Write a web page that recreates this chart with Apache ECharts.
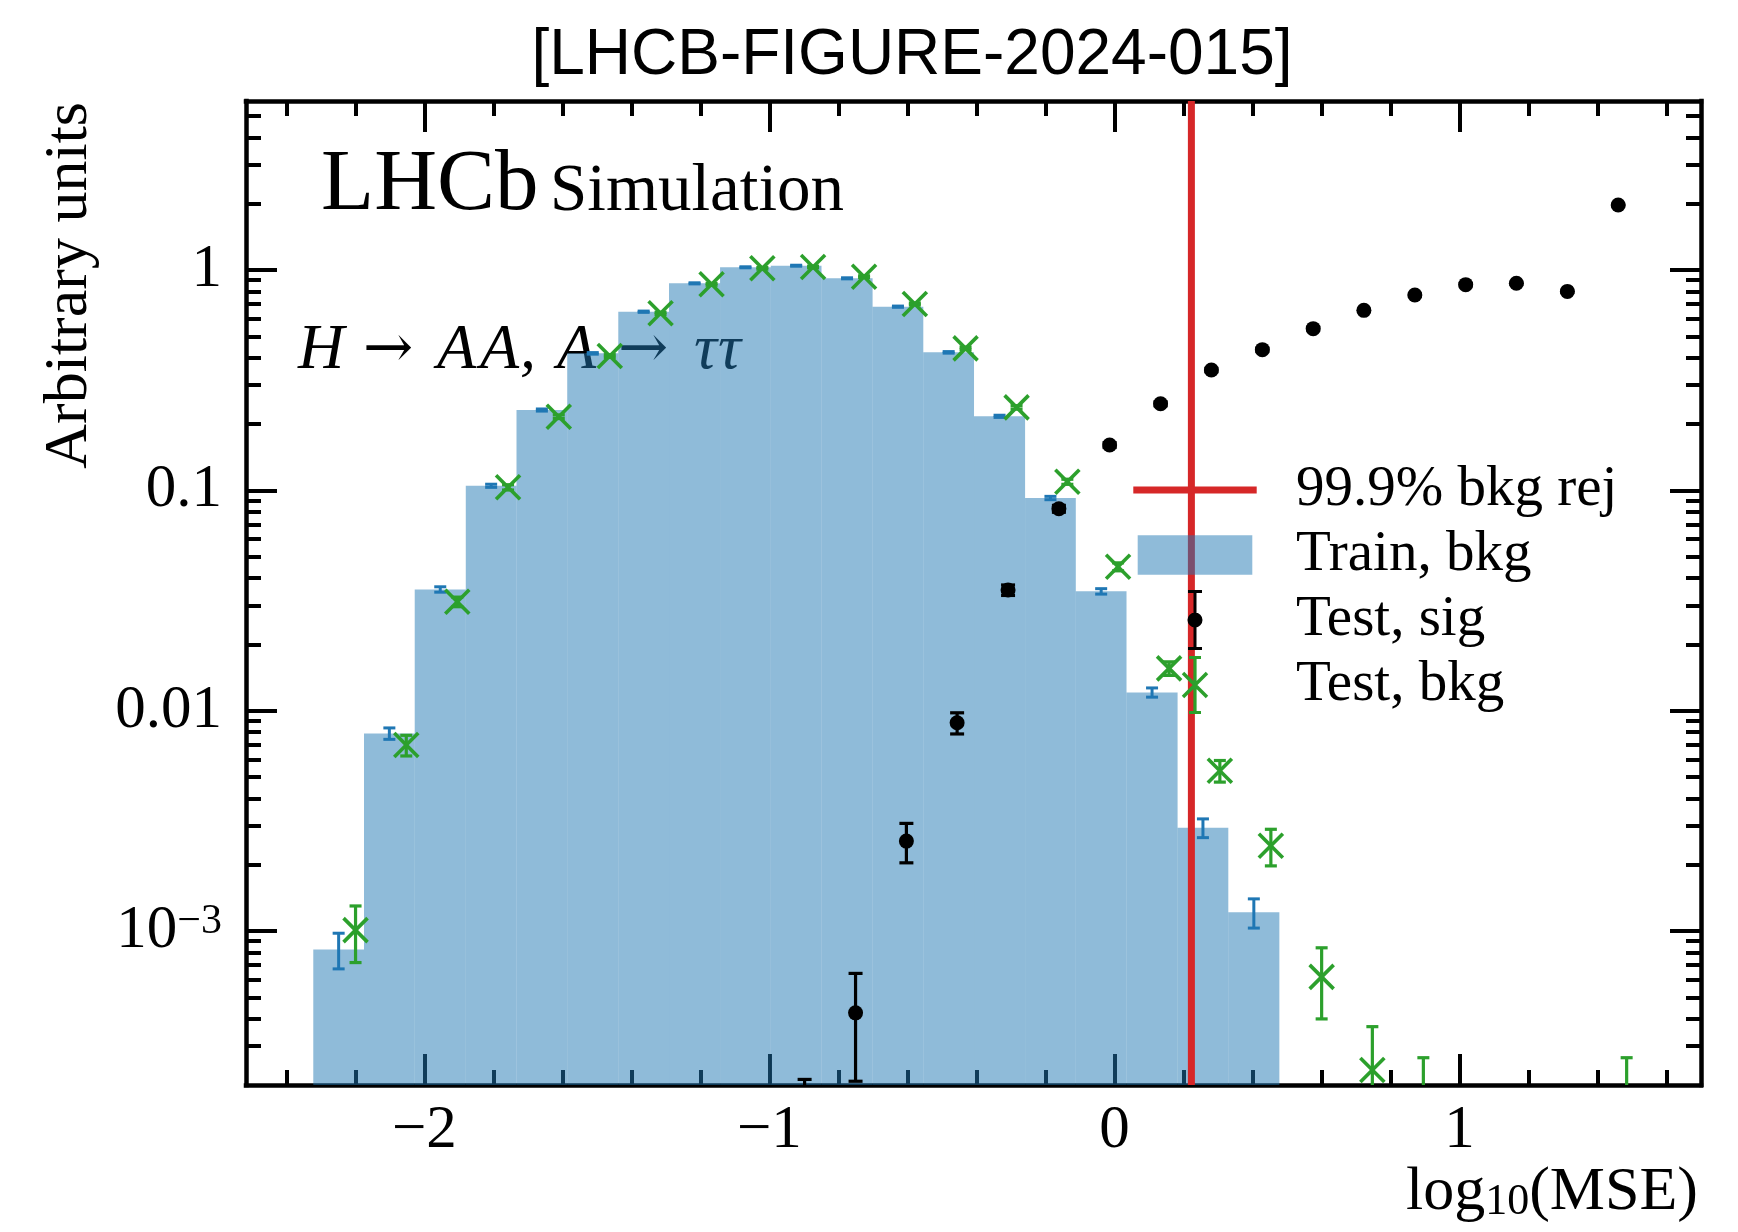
<!DOCTYPE html>
<html>
<head>
<meta charset="utf-8">
<script src="https://cdn.jsdelivr.net/npm/echarts@6/dist/echarts.min.js"></script>
<style>
  html, body { margin: 0; padding: 0; background: #ffffff; }
  #chart { width: 1738px; height: 1232px; }
</style>
</head>
<body>
<div id="chart"></div>
<script>
// ---- Data: normalised log10(MSE) distributions (26 common bins) ----
const binEdges = [-2.322, -2.175, -2.028, -1.880, -1.733, -1.586, -1.438, -1.291, -1.143,
  -0.996, -0.849, -0.701, -0.554, -0.407, -0.259, -0.112, 0.035, 0.183, 0.330,
  0.478, 0.625, 0.772, 0.920, 1.067, 1.214, 1.362, 1.509];

// Training background (filled histogram) and its statistical uncertainty
const trainBkg = [8.25e-4, 7.88e-3, 0.0355, 0.1049, 0.2315, 0.4185, 0.6468, 0.870, 1.029,
  1.046, 0.917, 0.6817, 0.4229, 0.2168, 0.0923, 0.0348, 0.0121, 2.94e-3, 1.215e-3,
  null, null, null, null, null, null, null];
const trainBkgErr = [1.52e-4, 4.7e-4, 9.97e-4, 1.71e-3, 2.55e-3, 3.42e-3, 4.26e-3, 4.94e-3, 5.37e-3,
  5.41e-3, 5.07e-3, 4.37e-3, 3.44e-3, 2.46e-3, 1.61e-3, 9.87e-4, 5.82e-4, 2.87e-4, 1.84e-4,
  null, null, null, null, null, null, null];

// Test signal, H -> AA, A -> tautau
const testSig = [null, null, null, null, null, null, null, null, null,
  1.06e-4, 4.25e-4, 2.559e-3, 8.81e-3, 0.03527, 0.0825, 0.1606, 0.2472, 0.3516, 0.435,
  0.542, 0.656, 0.770, 0.858, 0.871, 0.800, 1.972];
const testSigErr = [null, null, null, null, null, null, null, null, null,
  1.06e-4, 2.17e-4, 5.2e-4, 9.7e-4, 1.93e-3, 2.96e-3, 4.13e-3, 5.12e-3, 6.1e-3, 6.79e-3,
  7.58e-3, 8.34e-3, 9.03e-3, 9.54e-3, 9.61e-3, 9.2e-3, 1.45e-2];

// Test background
const testBkg = [1.009e-3, 6.98e-3, 0.0312, 0.1032, 0.2158, 0.4071, 0.6359, 0.8612, 1.018,
  1.032, 0.9324, 0.701, 0.441, 0.238, 0.1094, 0.045, 0.01556, 5.34e-3, 2.435e-3,
  6.19e-4, 2.34e-4, 1.56e-4, null, null, null, 1.56e-4];
const testBkgErr = [2.9e-4, 7.5e-4, 1.56e-3, 2.84e-3, 4.10e-3, 5.64e-3, 7.04e-3, 8.20e-3, 8.91e-3,
  8.98e-3, 8.53e-3, 7.39e-3, 5.87e-3, 4.31e-3, 2.92e-3, 1.87e-3, 1.10e-3, 6.0e-4, 4.6e-4,
  2.2e-4, 1.34e-4, 1.1e-4, null, null, null, 1.1e-4];

// 99.9% background-rejection threshold on log10(MSE)
const cutValue = 0.223;

// Axis ticks and labels
const xMajorTicks = [-2, -1, 0, 1];
const xMinorTicks = [-2.4, -2.2, -1.8, -1.6, -1.4, -1.2, -0.8, -0.6, -0.4, -0.2,
  0.2, 0.4, 0.6, 0.8, 1.2, 1.4, 1.6];
const yMajorTicks = [0.001, 0.01, 0.1, 1];
const yMinorTicks = [3e-4, 4e-4, 5e-4, 6e-4, 7e-4, 8e-4, 9e-4,
  2e-3, 3e-3, 4e-3, 5e-3, 6e-3, 7e-3, 8e-3, 9e-3,
  0.02, 0.03, 0.04, 0.05, 0.06, 0.07, 0.08, 0.09,
  0.2, 0.3, 0.4, 0.5, 0.6, 0.7, 0.8, 0.9,
  2, 3, 4, 5];

// ---- Styling ----
const X_MIN = -2.517, X_MAX = 1.700;
const Y_MIN = 2e-4, Y_MAX = 5.85;
const INK = '#000000';
const BLUE = '#1f77b4';
const BLUE_FILL = 'rgba(31,119,180,0.5)';
const GREEN = '#2ca02c';
const RED = '#d62728';
const SERIF = '"Liberation Serif", "Times New Roman", "DejaVu Serif", serif';
const ARROW_FONT = '"DejaVu Serif", "Liberation Serif", serif';
const SANS = '"Liberation Sans", Arial, Helvetica, sans-serif';
const FRAME_W = 4.5, TICK_W = 4, MAJOR_LEN = 31, MINOR_LEN = 15;
const TICK_FONT = 61;

function xAxisDef(pos, ticks, len, withLine, withLabels) {
  return {
    type: 'value', gridIndex: 0, position: pos, offset: 0,
    min: X_MIN, max: X_MAX,
    axisLine: { show: withLine, onZero: false, lineStyle: { color: INK, width: FRAME_W, cap: 'square' } },
    axisTick: { show: true, inside: true, length: len, customValues: ticks,
      lineStyle: { color: INK, width: TICK_W } },
    axisLabel: withLabels ? {
      show: true, customValues: ticks, margin: 15,
      fontFamily: SERIF, fontSize: TICK_FONT, color: INK,
      formatter: v => (v < 0 ? '\u2212' + Math.abs(Math.round(v)) : String(Math.round(v)))
    } : { show: false },
    splitLine: { show: false }
  };
}

function yAxisDef(pos, ticks, len, withLine, withLabels) {
  return {
    type: 'log', logBase: 10, gridIndex: 0, position: pos, offset: 0,
    min: Y_MIN, max: Y_MAX,
    axisLine: { show: withLine, onZero: false, lineStyle: { color: INK, width: FRAME_W, cap: 'square' } },
    axisTick: { show: true, inside: true, length: len, customValues: ticks,
      lineStyle: { color: INK, width: TICK_W } },
    axisLabel: withLabels ? {
      show: true, customValues: ticks, margin: 24,
      fontFamily: SERIF, fontSize: TICK_FONT, color: INK,
      formatter: v => {
        const e = Math.round(Math.log10(v));
        if (e >= -2) return Math.pow(10, e).toFixed(Math.max(0, -e));
        return '10{sup|\u2212' + (-e) + '}';
      },
      rich: {
        sup: { fontFamily: SERIF, fontSize: 42, lineHeight: 32, verticalAlign: 'top', color: INK }
      }
    } : { show: false },
    splitLine: { show: false }
  };
}

// rows of [binLow, binHigh, value, error]
function binRows(values, errors) {
  const rows = [];
  values.forEach((v, k) => {
    if (v == null) return;
    rows.push([binEdges[k], binEdges[k + 1], v, errors ? errors[k] : 0]);
  });
  return rows;
}

function renderBar(params, api) {
  const top = api.coord([api.value(0), api.value(2)]);
  const base = api.coord([api.value(1), Y_MIN]);
  return {
    type: 'rect',
    shape: { x: top[0], y: top[1], width: base[0] - top[0], height: base[1] - top[1] },
    style: { fill: BLUE_FILL }
  };
}

// error bar (+ optional marker); shift is a fraction of the bin width
function makeErrRender(color, shift, marker, capHalf, lw) {
  return function (params, api) {
    const lo = api.value(0), hi = api.value(1), v = api.value(2), e = api.value(3);
    const xc = (lo + hi) / 2 + shift * (hi - lo);
    const pc = api.coord([xc, v]);
    const up = api.coord([xc, v + e]);
    const dn = api.coord([xc, v - e > 0 ? v - e : Y_MIN / 100]);
    const st = { stroke: color, lineWidth: lw, fill: null };
    const kids = [
      { type: 'line', shape: { x1: pc[0], y1: up[1], x2: pc[0], y2: dn[1] }, style: st },
      { type: 'line', shape: { x1: pc[0] - capHalf, y1: up[1], x2: pc[0] + capHalf, y2: up[1] }, style: st },
      { type: 'line', shape: { x1: pc[0] - capHalf, y1: dn[1], x2: pc[0] + capHalf, y2: dn[1] }, style: st }
    ];
    if (marker === 'dot') {
      kids.push({ type: 'circle', shape: { cx: pc[0], cy: pc[1], r: 7.5 }, style: { fill: color } });
    } else if (marker === 'x') {
      const h = 12;
      const xs = { stroke: color, lineWidth: 3.6, fill: null };
      kids.push({ type: 'line', shape: { x1: pc[0] - h, y1: pc[1] - h, x2: pc[0] + h, y2: pc[1] + h }, style: xs });
      kids.push({ type: 'line', shape: { x1: pc[0] - h, y1: pc[1] + h, x2: pc[0] + h, y2: pc[1] - h }, style: xs });
    }
    return { type: 'group', children: kids };
  };
}

function renderCut(params, api) {
  const a = api.coord([api.value(0), Y_MAX]);
  const b = api.coord([api.value(0), Y_MIN]);
  return { type: 'line', shape: { x1: a[0], y1: a[1], x2: b[0], y2: b[1] },
    style: { stroke: RED, lineWidth: 7 } };
}

// legend handles, each in a 158 x 60 box (corner anchors fix the box)
const BOX = 'M0,0L0.01,0M158,60L157.99,60';
const ICON_CUT = 'path://' + BOX + 'M0.3,26.5H123.7V33.5H0.3Z';
const ICON_PATCH = 'path://' + BOX + 'M4.7,10.2H119.3V49.8H4.7Z';
const ICON_SIG = 'path://' + BOX +
  'M60.5,1.5H63.5V58.5H60.5Z' +
  'M55,0H69V3H55Z' + 'M55,57H69V60H55Z' +
  'M54.5,30A7.5,7.5 0 1,1 69.5,30A7.5,7.5 0 1,1 54.5,30Z';
const ICON_BKG = 'path://' + BOX +
  'M60.4,2.5H63.6V57.5H60.4Z' +
  'M56,1H68V4H56Z' + 'M56,56H68V59H56Z' +
  'M51.24,16.76L75.24,40.76L72.76,43.24L48.76,19.24Z' +
  'M72.76,16.76L75.24,19.24L51.24,43.24L48.76,40.76Z';

// pieces of the decay label: [text, x, italic]
function decayPiece(text, x, italic) {
  return { type: 'text', x: x, y: 351,
    style: { text: text, fontFamily: italic ? SERIF : ARROW_FONT, fontStyle: italic ? 'italic' : 'normal',
      fontSize: italic ? 64 : 60, fill: INK,
      align: 'left', verticalAlign: 'middle', textAlign: 'left', textVerticalAlign: 'middle' } };
}

const chart = echarts.init(document.getElementById('chart'), null, { renderer: 'canvas' });

chart.setOption({
  backgroundColor: '#ffffff',
  animation: false,
  grid: { left: 246, right: 37, top: 101, bottom: 147, containLabel: false },
  xAxis: [
    xAxisDef('bottom', xMajorTicks, MAJOR_LEN, true, true),
    xAxisDef('bottom', xMinorTicks, MINOR_LEN, false, false),
    xAxisDef('top', xMajorTicks, MAJOR_LEN, true, false),
    xAxisDef('top', xMinorTicks, MINOR_LEN, false, false)
  ],
  yAxis: [
    yAxisDef('left', yMajorTicks, MAJOR_LEN, true, true),
    yAxisDef('left', yMinorTicks, MINOR_LEN, false, false),
    yAxisDef('right', yMajorTicks, MAJOR_LEN, true, false),
    yAxisDef('right', yMinorTicks, MINOR_LEN, false, false)
  ],
  legend: {
    orient: 'vertical', left: 1133, top: 460, padding: 0,
    itemWidth: 158, itemHeight: 60, itemGap: 5, align: 'left',
    selectedMode: false,
    itemStyle: { borderWidth: 0 },
    textStyle: { fontFamily: SERIF, fontSize: 57, color: INK },
    data: [
      { name: '99.9% bkg rej', icon: ICON_CUT },
      { name: 'Train, bkg', icon: ICON_PATCH },
      { name: 'Test, sig', icon: ICON_SIG },
      { name: 'Test, bkg', icon: ICON_BKG }
    ]
  },
  series: [
    {
      name: 'Train, bkg', type: 'custom', xAxisIndex: 0, yAxisIndex: 0, z: 1, clip: true,
      itemStyle: { color: BLUE_FILL },
      encode: { x: [0, 1], y: 2 },
      data: binRows(trainBkg, trainBkgErr),
      renderItem: renderBar
    },
    {
      name: 'train-stat', type: 'custom', xAxisIndex: 0, yAxisIndex: 0, z: 2, clip: true,
      itemStyle: { color: BLUE },
      encode: { x: [0, 1], y: 2 },
      data: binRows(trainBkg, trainBkgErr),
      renderItem: makeErrRender(BLUE, 0, null, 6, 3)
    },
    {
      name: '99.9% bkg rej', type: 'custom', xAxisIndex: 0, yAxisIndex: 0, z: 3,
      itemStyle: { color: RED },
      encode: { x: 0 },
      data: [[cutValue]],
      renderItem: renderCut
    },
    {
      name: 'Test, sig', type: 'custom', xAxisIndex: 0, yAxisIndex: 0, z: 4, clip: true,
      itemStyle: { color: INK },
      encode: { x: [0, 1], y: 2 },
      data: binRows(testSig, testSigErr),
      renderItem: makeErrRender(INK, 1 / 6, 'dot', 7, 3.2)
    },
    {
      name: 'Test, bkg', type: 'custom', xAxisIndex: 0, yAxisIndex: 0, z: 5, clip: true,
      itemStyle: { color: GREEN },
      encode: { x: [0, 1], y: 2 },
      data: binRows(testBkg, testBkgErr),
      renderItem: makeErrRender(GREEN, 1 / 3, 'x', 6, 3.2)
    }
  ],
  graphic: [
    { type: 'text', x: 912, y: 56, silent: true,
      style: { text: '[LHCB-FIGURE-2024-015]', fontFamily: SANS, fontSize: 64, fill: INK,
        align: 'center', verticalAlign: 'middle', textAlign: 'center', textVerticalAlign: 'middle' } },
    { type: 'text', x: 321, y: 186, silent: true,
      style: { text: 'LHCb', fontFamily: SERIF, fontSize: 87, fill: INK,
        align: 'left', verticalAlign: 'middle', textAlign: 'left', textVerticalAlign: 'middle' } },
    { type: 'text', x: 550, y: 192, silent: true,
      style: { text: 'Simulation', fontFamily: SERIF, fontSize: 67, fill: INK,
        align: 'left', verticalAlign: 'middle', textAlign: 'left', textVerticalAlign: 'middle' } },
    { type: 'group', silent: true, children: [
      decayPiece('H', 298, true),
      decayPiece('\u2192', 363, false),
      decayPiece('A', 437, true),
      decayPiece('A', 480, true),
      decayPiece(',', 520, true),
      decayPiece('A', 557, true),
      decayPiece('\u2192', 618, false),
      decayPiece('\u03c4', 694, true),
      decayPiece('\u03c4', 718, true)
    ] },
    { type: 'text', x: 70, y: 102, rotation: Math.PI / 2, silent: true,
      style: { text: 'Arbitrary units', fontFamily: SERIF, fontSize: 62, fill: INK,
        align: 'right', verticalAlign: 'middle', textAlign: 'right', textVerticalAlign: 'middle' } },
    { type: 'text', x: 1698, y: 1162, silent: true,
      style: { text: 'log{sub|10}(MSE)', fontFamily: SERIF, fontSize: 62, fill: INK,
        align: 'right', verticalAlign: 'top', textAlign: 'right', textVerticalAlign: 'top',
        lineHeight: 62,
        rich: { sub: { fontFamily: SERIF, fontSize: 44, lineHeight: 26, verticalAlign: 'bottom', fill: INK } } } }
  ]
});
</script>
</body>
</html>
